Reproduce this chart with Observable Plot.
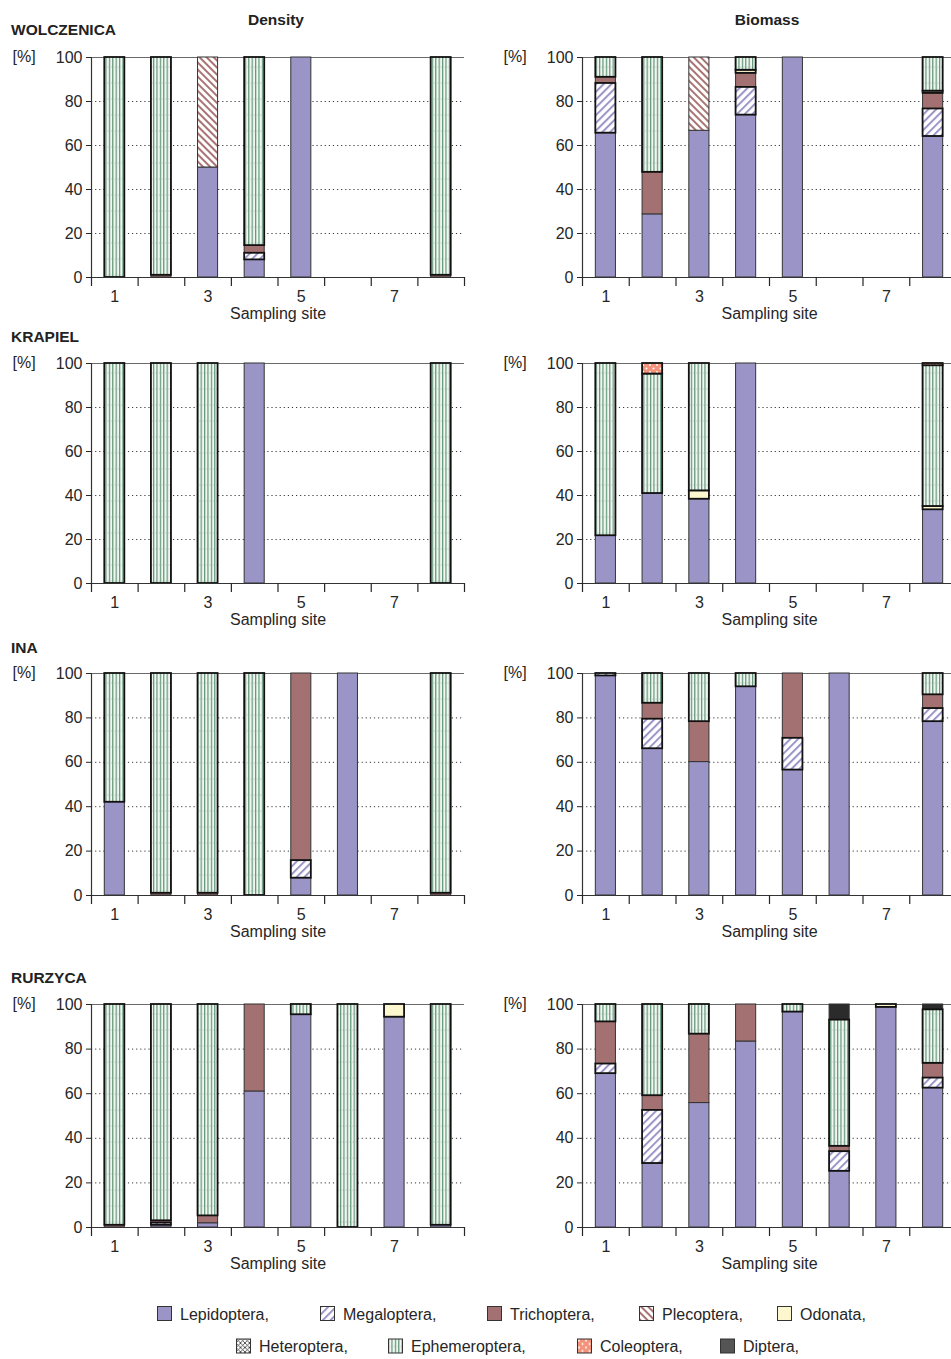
<!DOCTYPE html>
<html>
<head>
<meta charset="utf-8">
<script src="https://cdn.jsdelivr.net/npm/d3@7"></script>
<script src="https://cdn.jsdelivr.net/npm/@observablehq/plot@0.6"></script>
<style>
  html, body { margin: 0; padding: 0; background: #fff; overflow: hidden; }
  body { font-family: "Liberation Sans", Arial, sans-serif; color: #222; }
  #wrap { position: relative; width: 951px; height: 1359px; overflow: hidden; }
  .panel { position: absolute; }
  .panel svg { max-width: none !important; }
  .lbl { position: absolute; font-weight: bold; font-size: 15.5px; line-height: 15.5px; white-space: nowrap; color: #222; }
  .ctr { transform: translateX(-50%); }
</style>
</head>
<body>
<svg width="0" height="0" style="position:absolute">
  <defs>
    <pattern id="pMeg" patternUnits="userSpaceOnUse" width="5.5" height="5.5" patternTransform="rotate(45)">
      <rect width="5.5" height="5.5" fill="#fff"/>
      <line x1="1" y1="0" x2="1" y2="5.5" stroke="#9b95c7" stroke-width="2"/>
    </pattern>
    <pattern id="pPle" patternUnits="userSpaceOnUse" width="5" height="5" patternTransform="rotate(-45)">
      <rect width="5" height="5" fill="#fff"/>
      <line x1="1" y1="0" x2="1" y2="5" stroke="#a87474" stroke-width="2"/>
    </pattern>
    <pattern id="pEph" patternUnits="userSpaceOnUse" width="3.4" height="16">
      <rect width="3.4" height="16" fill="#f2f7f3"/>
      <line x1="0.6" y1="0" x2="0.6" y2="16" stroke="#5f9474" stroke-width="1.2"/>
      <line x1="1.2" y1="8" x2="3.4" y2="8" stroke="#c6dacb" stroke-width="0.8"/>
    </pattern>
    <pattern id="pCol" patternUnits="userSpaceOnUse" width="7" height="7">
      <rect width="7" height="7" fill="#f3937b"/>
      <circle cx="2" cy="2" r="1" fill="#fff"/>
      <circle cx="5.5" cy="5.5" r="1" fill="#fff"/>
    </pattern>
    <pattern id="pHet" patternUnits="userSpaceOnUse" width="4.5" height="4.5">
      <rect width="4.5" height="4.5" fill="#fff"/>
      <path d="M0,0L4.5,4.5M4.5,0L0,4.5" stroke="#333" stroke-width="0.8"/>
    </pattern>
  </defs>
</svg>
<div id="wrap"></div>
<script>
// ---------- DATA ----------
const taxa = ["Lepidoptera", "Megaloptera", "Trichoptera", "Plecoptera", "Odonata",
              "Heteroptera", "Ephemeroptera", "Coleoptera", "Diptera"];
const sites = [1, 2, 3, 4, 5, 6, 7, 8];
const yTicks = [0, 20, 40, 60, 80, 100];
const xLabelTicks = [1, 3, 5, 7];
const rivers = ["WOLCZENICA", "KRAPIEL", "INA", "RURZYCA"];
const measures = ["Density", "Biomass"];

// each row: one sampling site, values in taxa order (%); null = no data
const wolczenicaDensity = [
  [0, 0, 0, 0, 0, 0, 100, 0, 0],
  [0, 0, 1, 0, 0, 0, 99, 0, 0],
  [50, 0, 0, 50, 0, 0, 0, 0, 0],
  [8, 3, 3.5, 0, 0, 0, 85.5, 0, 0],
  [100, 0, 0, 0, 0, 0, 0, 0, 0],
  null,
  null,
  [0, 0, 1, 0, 0, 0, 99, 0, 0]
];
const wolczenicaBiomass = [
  [65.6, 22.6, 2.8, 0, 0, 0, 9, 0, 0],
  [28.7, 0, 19.1, 0, 0, 0, 52.2, 0, 0],
  [66.7, 0, 0, 33.3, 0, 0, 0, 0, 0],
  [73.8, 12.6, 6.4, 0, 1.4, 0, 5.8, 0, 0],
  [100, 0, 0, 0, 0, 0, 0, 0, 0],
  null,
  null,
  [64.1, 12.5, 7.1, 0, 1, 0, 15.3, 0, 0]
];
const krapielDensity = [
  [0, 0, 0, 0, 0, 0, 100, 0, 0],
  [0, 0, 0, 0, 0, 0, 100, 0, 0],
  [0, 0, 0, 0, 0, 0, 100, 0, 0],
  [100, 0, 0, 0, 0, 0, 0, 0, 0],
  null,
  null,
  null,
  [0, 0, 0, 0, 0, 0, 100, 0, 0]
];
const krapielBiomass = [
  [21.7, 0, 0, 0, 0, 0, 78.3, 0, 0],
  [40.9, 0, 0, 0, 0, 0, 54.3, 4.8, 0],
  [38.3, 0, 0, 0, 3.8, 0, 57.9, 0, 0],
  [100, 0, 0, 0, 0, 0, 0, 0, 0],
  null,
  null,
  null,
  [33.5, 0, 0, 0, 1.5, 0, 64, 1, 0]
];
const inaDensity = [
  [42, 0, 0, 0, 0, 0, 58, 0, 0],
  [0, 0, 1, 0, 0, 0, 99, 0, 0],
  [0, 0, 1, 0, 0, 0, 99, 0, 0],
  [0, 0, 0, 0, 0, 0, 100, 0, 0],
  [7.8, 7.9, 84.3, 0, 0, 0, 0, 0, 0],
  [100, 0, 0, 0, 0, 0, 0, 0, 0],
  null,
  [0, 0, 1, 0, 0, 0, 99, 0, 0]
];
const inaBiomass = [
  [98.9, 1.1, 0, 0, 0, 0, 0, 0, 0],
  [66.1, 13.3, 7.2, 0, 0, 0, 13.4, 0, 0],
  [60.1, 0, 18.2, 0, 0, 0, 21.7, 0, 0],
  [94, 0, 0, 0, 0, 0, 6, 0, 0],
  [56.5, 14.3, 29.2, 0, 0, 0, 0, 0, 0],
  [100, 0, 0, 0, 0, 0, 0, 0, 0],
  null,
  [78.3, 5.9, 6.2, 0, 0, 0, 9.6, 0, 0]
];
const rurzycaDensity = [
  [0, 0, 1, 0, 0, 0, 99, 0, 0],
  [1, 1, 1, 0, 0, 0, 97, 0, 0],
  [1.9, 0, 3.3, 0, 0, 0, 94.8, 0, 0],
  [61, 0, 39, 0, 0, 0, 0, 0, 0],
  [95.4, 0, 0, 0, 0, 0, 4.6, 0, 0],
  [0, 0, 0, 0, 0, 0, 100, 0, 0],
  [94.3, 0, 0, 0, 5.7, 0, 0, 0, 0],
  [1, 0, 0, 0, 0, 0, 99, 0, 0]
];
const rurzycaBiomass = [
  [69, 4.3, 18.9, 0, 0, 0, 7.8, 0, 0],
  [28.7, 23.8, 6.6, 0, 0, 0, 40.9, 0, 0],
  [55.8, 0, 30.9, 0, 0, 0, 13.3, 0, 0],
  [83.4, 0, 16.6, 0, 0, 0, 0, 0, 0],
  [96.6, 0, 0, 0, 0, 0, 3.4, 0, 0],
  [25.2, 8.8, 2.4, 0, 0, 0, 56.6, 0, 7],
  [98.7, 0, 0, 0, 1.3, 0, 0, 0, 0],
  [62.5, 4.5, 6.6, 0, 0, 0, 24, 0, 2.4]
];

// ---------- STYLE ----------
const fills = {
  Lepidoptera: "#9b95c7",
  Megaloptera: "url(#pMeg)",
  Trichoptera: "#a37171",
  Plecoptera: "url(#pPle)",
  Odonata: "#fdf7cf",
  Heteroptera: "url(#pHet)",
  Ephemeroptera: "url(#pEph)",
  Coleoptera: "url(#pCol)",
  Diptera: "#2b2b2b"
};
const thinStroke = new Set(["Lepidoptera", "Trichoptera", "Diptera", "Plecoptera"]);
const FONT = '"Liberation Sans", Arial, sans-serif';

const panelData = [
  [wolczenicaDensity, wolczenicaBiomass],
  [krapielDensity, krapielBiomass],
  [inaDensity, inaBiomass],
  [rurzycaDensity, rurzycaBiomass]
];

// layout
const plotTops = [57.3, 362.7, 672.7, 1003.7];
const plotHeights = [220, 220, 222, 223];
const MT = 14, MB = 52;
const cols = [
  {left: 0, marginLeft: 91, plotW: 373, marginRight: 16},
  {left: 480, marginLeft: 102, plotW: 374, marginRight: 0}
];
const half = 0.215;

function stackRows(rows) {
  const out = [];
  rows.forEach((vals, i) => {
    if (!vals) return;
    let acc = 0;
    vals.forEach((v, k) => {
      if (v > 0) {
        out.push({site: sites[i], taxon: taxa[k], y1: acc, y2: acc + v});
        acc += v;
      }
    });
  });
  return out;
}

function makePanel(rows, col, plotH) {
  const data = stackRows(rows);
  const edges = d3.range(sites.length + 1).map(i => sites[0] - 0.5 + i);
  const rectOpts = {
    x1: d => d.site - half, x2: d => d.site + half,
    y1: "y1", y2: "y2", fill: d => fills[d.taxon]
  };
  return Plot.plot({
    width: col.marginLeft + col.plotW + col.marginRight,
    height: MT + plotH + MB,
    marginLeft: col.marginLeft, marginRight: col.marginRight,
    marginTop: MT, marginBottom: MB,
    x: {domain: [edges[0], edges[edges.length - 1]], axis: null},
    y: {domain: [0, 100], axis: null},
    color: {type: "identity"},
    style: {fontFamily: FONT, fontSize: "16px", color: "#262626", background: "transparent", overflow: "visible", maxWidth: "none"},
    marks: [
      Plot.ruleY(yTicks.filter(t => t > 0 && t < 100), {stroke: "#3a3a3a", strokeDasharray: "1.2,2.9", strokeWidth: 1}),
      Plot.ruleY([100], {stroke: "#6a6a6a", strokeWidth: 1}),
      Plot.rectY(data.filter(d => thinStroke.has(d.taxon)), {...rectOpts, stroke: "#333", strokeWidth: 1}),
      Plot.rectY(data.filter(d => !thinStroke.has(d.taxon)), {...rectOpts, stroke: "#111", strokeWidth: 1.8}),
      Plot.ruleY([0], {stroke: "#333", strokeWidth: 1.2}),
      Plot.ruleX([edges[0]], {y1: 0, y2: 100, stroke: "#333", strokeWidth: 1.2}),
      Plot.axisY({ticks: yTicks, tickSize: 5, tickPadding: 4, label: null, tickFormat: d => String(d)}),
      Plot.axisX({ticks: edges, tickSize: 9, tickFormat: () => "", label: null, strokeWidth: 1.2}),
      Plot.axisX({ticks: xLabelTicks, tickSize: 0, tickPadding: 13, label: null, tickFormat: d => String(d)}),
      Plot.text(["Sampling site"], {text: d => d, frameAnchor: "bottom", dy: 30, lineAnchor: "top"}),
      Plot.text(["[%]"], {text: d => d, frameAnchor: "top-left", dx: -79, dy: -1, textAnchor: "start", lineAnchor: "middle"})
    ]
  });
}

const wrap = document.getElementById("wrap");

rivers.forEach((river, r) => {
  cols.forEach((col, c) => {
    const el = makePanel(panelData[r][c], col, plotHeights[r]);
    el.style.maxWidth = "none";
    const holder = document.createElement("div");
    holder.className = "panel";
    holder.style.left = col.left + "px";
    holder.style.top = (plotTops[r] - MT) + "px";
    holder.style.width = (col.marginLeft + col.plotW + col.marginRight) + "px";
    holder.appendChild(el);
    wrap.appendChild(holder);
  });
});

// titles & river labels (baseline-aligned)
const asc = 0.8465;
function addLabel(text, x, baseline, center) {
  const d = document.createElement("div");
  d.className = "lbl" + (center ? " ctr" : "");
  d.textContent = text;
  d.style.left = x + "px";
  d.style.top = (baseline - asc * 15.5) + "px";
  wrap.appendChild(d);
}
addLabel(measures[0], 276, 25, true);
addLabel(measures[1], 767, 25, true);
const riverBaselines = [35, 342, 653, 983];
rivers.forEach((rv, i) => addLabel(rv, 11, riverBaselines[i], false));

// legend
const legendRows = [
  {taxa: taxa.slice(0, 5), xs: [157, 320, 487, 639, 777], top: 1306},
  {taxa: taxa.slice(5), xs: [236, 388, 577, 720], top: 1338.5}
];
const leg = d3.select(wrap).append("svg")
  .attr("width", 951).attr("height", 70)
  .style("position", "absolute").style("left", "0px").style("top", "1295px")
  .style("font-family", FONT).style("font-size", "16px");
legendRows.forEach(row => {
  row.taxa.forEach((t, i) => {
    const g = leg.append("g").attr("transform", `translate(${row.xs[i]},${row.top - 1295})`);
    g.append("rect").attr("x", 0.5).attr("y", 0.5).attr("width", 14).attr("height", 14)
      .attr("fill", t === "Diptera" ? "#555" : fills[t]).attr("stroke", "#333").attr("stroke-width", 1);
    g.append("text").attr("x", 23).attr("y", 13.5).attr("fill", "#262626").text(t + ",");
  });
});
</script>
</body>
</html>
